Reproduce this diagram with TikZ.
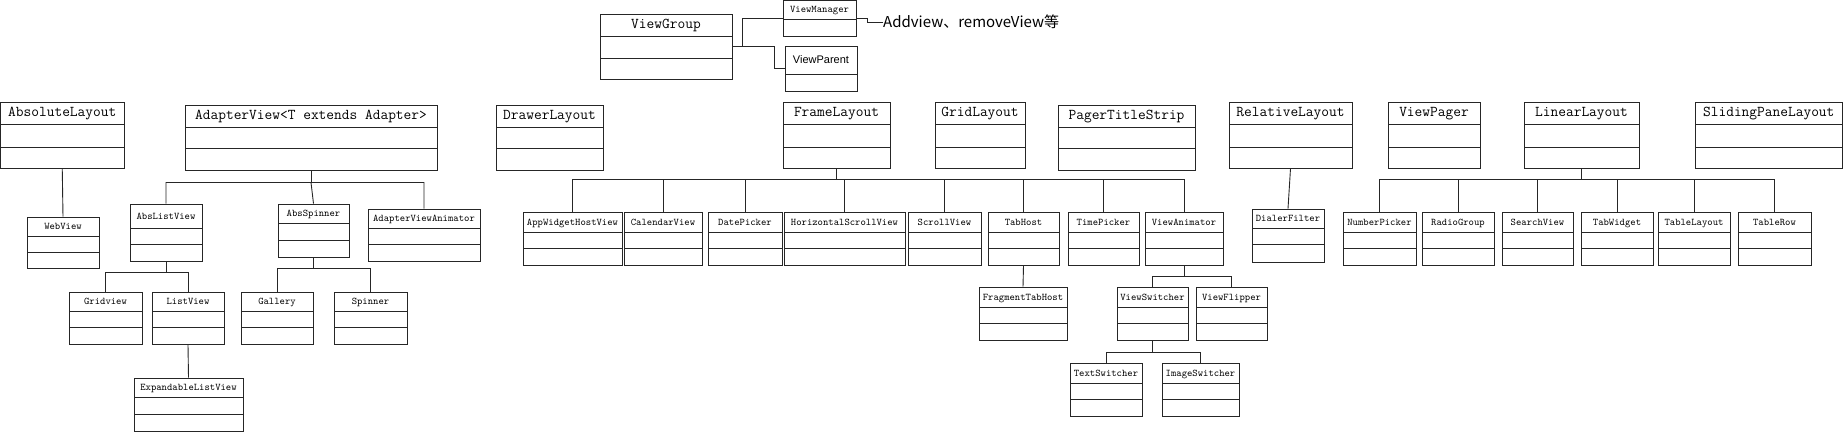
\documentclass[tikz,border=0pt]{standalone}
\usepackage{fontspec}
\setsansfont{Liberation Sans}
\newfontfamily\cjkfont{Noto Sans CJK SC}
\usetikzlibrary{fit}

\newcommand{\Klass}[9][smallname]{%
  \node[klass, fit={(#3,#4) (#5,#6)}] (#2) {};
  \draw[link] (#3,#7) -- (#5,#7) (#3,#8) -- (#5,#8);
  \node[#1] (#2-t) at ({(#3+#5)/2},{(#4+#7)/2}) {#9};
}

\begin{document}
\begin{tikzpicture}[x=1pt,y=-1pt]
                  \tikzset{klass/.style = {draw = black!85, line width = .9pt, inner sep = 0pt},
                           link/.style = {draw = black!85, line width = .9pt},
                           bigname/.style = {font = \ttfamily\fontsize{15}{17}\selectfont, inner sep = 0pt, text height = .61em, text depth = 0pt},
                           smallname/.style = {font = \ttfamily\fontsize{10.2}{12}\selectfont, inner sep = 0pt, text height = .61em, text depth = 0pt},
                           sansname/.style = {font = \sffamily\fontsize{11}{12}\selectfont, inner sep = 0pt, text height = .72em, text depth = 0pt},
                           notetext/.style = {font = \cjkfont\fontsize{15}{17}\selectfont, inner sep = 0pt}}
                  \useasboundingbox (0,0) rectangle (1843,432);
                  % top
                  \Klass[bigname]{ViewGroup}{600}{14}{732}{79}{36}{58}{ViewGroup}
                  \Klass{ViewManager}{783}{.5}{856}{36}{19}{19}{ViewManager}
                  \Klass[sansname]{ViewParent}{785}{46}{857}{91}{74}{74}{ViewParent}
                  \node[notetext, anchor = west] (note) at (883,22) {Addview、removeView等};
                  % layouts
                  \Klass[bigname]{AbsoluteLayout}{.5}{102}{124}{168}{124}{147}{AbsoluteLayout}
                  \Klass[bigname]{AdapterView}{185}{105}{437}{170}{127}{148}{AdapterView<T extends Adapter>}
                  \Klass[bigname]{DrawerLayout}{496}{105}{603}{170}{127}{148}{DrawerLayout}
                  \Klass[bigname]{FrameLayout}{783}{102}{890}{168}{124}{147}{FrameLayout}
                  \Klass[bigname]{GridLayout}{935}{102}{1025}{168}{124}{147}{GridLayout}
                  \Klass[bigname]{PagerTitleStrip}{1058}{105}{1195}{170}{127}{148}{PagerTitleStrip}
                  \Klass[bigname]{RelativeLayout}{1229}{102}{1352}{168}{124}{147}{RelativeLayout}
                  \Klass[bigname]{ViewPager}{1388}{102}{1480}{168}{124}{147}{ViewPager}
                  \Klass[bigname]{LinearLayout}{1524}{102}{1639}{168}{124}{147}{LinearLayout}
                  \Klass[bigname]{SlidingPaneLayout}{1695}{102}{1842.5}{168}{124}{147}{SlidingPaneLayout}
                  % children
                  \Klass{WebView}{27}{217}{99}{268}{236}{252}{WebView}
                  \Klass{AbsListView}{130}{204}{202}{261}{228}{244}{AbsListView}
                  \Klass{AbsSpinner}{278}{204}{349}{257}{223}{240}{AbsSpinner}
                  \Klass{AdapterViewAnimator}{368}{209}{480}{261}{228}{244}{AdapterViewAnimator}
                  \Klass{Gridview}{69}{292}{142}{344}{311}{327}{Gridview}
                  \Klass{ListView}{152}{292}{224}{344}{311}{327}{ListView}
                  \Klass{Gallery}{241}{292}{313}{344}{311}{327}{Gallery}
                  \Klass{Spinner}{334}{292}{407}{344}{311}{327}{Spinner}
                  \Klass{ExpandableListView}{134}{378}{243}{431.5}{397}{414}{ExpandableListView}
                  \Klass{AppWidgetHostView}{523}{212}{622}{265}{232}{248}{AppWidgetHostView}
                  \Klass{CalendarView}{624}{212}{702}{265}{232}{248}{CalendarView}
                  \Klass{DatePicker}{708}{212}{782}{265}{232}{248}{DatePicker}
                  \Klass{HorizontalScrollView}{784}{212}{905}{265}{232}{248}{HorizontalScrollView}
                  \Klass{ScrollView}{908}{212}{981}{265}{232}{248}{ScrollView}
                  \Klass{TabHost}{988}{212}{1059}{265}{232}{248}{TabHost}
                  \Klass{TimePicker}{1068}{212}{1139}{265}{232}{248}{TimePicker}
                  \Klass{ViewAnimator}{1145}{212}{1223}{265}{232}{248}{ViewAnimator}
                  \Klass{FragmentTabHost}{979}{287}{1067}{340}{307}{323}{FragmentTabHost}
                  \Klass{ViewSwitcher}{1117}{287}{1188}{340}{307}{323}{ViewSwitcher}
                  \Klass{ViewFlipper}{1196}{287}{1267}{340}{307}{323}{ViewFlipper}
                  \Klass{TextSwitcher}{1070}{363}{1142}{416}{383}{399}{TextSwitcher}
                  \Klass{ImageSwitcher}{1162}{363}{1239}{416}{383}{399}{ImageSwitcher}
                  \Klass{DialerFilter}{1252}{209}{1324}{262}{228}{244}{DialerFilter}
                  \Klass{NumberPicker}{1343}{212}{1416}{265}{232}{248}{NumberPicker}
                  \Klass{RadioGroup}{1422}{212}{1494}{265}{232}{248}{RadioGroup}
                  \Klass{SearchView}{1502}{212}{1573}{265}{232}{248}{SearchView}
                  \Klass{TabWidget}{1581}{212}{1653}{265}{232}{248}{TabWidget}
                  \Klass{TableLayout}{1658}{212}{1730}{265}{232}{248}{TableLayout}
                  \Klass{TableRow}{1738}{212}{1811}{265}{232}{248}{TableRow}
                  % connectors
                  \draw[link] (ViewGroup.east) -- ++(10,0) |- (ViewManager.west);
                  \draw[link] (ViewGroup.east) -- ++(42,0) |- (ViewParent.west);
                  \draw[link] (ViewManager.east) -- ++(11,0) |- (note.west);
                  \draw[link] (AbsoluteLayout.south) -- (WebView.north);
                  \draw[link] (AdapterView.south) -- ++(0,12) coordinate (av-bus);
                  \draw[link] (av-bus) -| (AbsListView.north) (av-bus) -- (AbsSpinner.north) (av-bus) -| (AdapterViewAnimator.north);
                  \draw[link] (AbsListView.south) -- ++(0,11) coordinate (al-bus);
                  \draw[link] (al-bus) -| (Gridview.north) (al-bus) -| (ListView.north);
                  \draw[link] (ListView.south) -- (ExpandableListView.north);
                  \draw[link] (AbsSpinner.south) -- ++(0,11) coordinate (as-bus);
                  \draw[link] (as-bus) -| (Gallery.north) (as-bus) -| (Spinner.north);
                  \draw[link] (FrameLayout.south) -- ++(0,11) coordinate (fl-bus);
                  \foreach \c in {AppWidgetHostView,CalendarView,DatePicker,HorizontalScrollView,ScrollView,TabHost,TimePicker,ViewAnimator}
                      \draw[link] (fl-bus) -| (\c.north);
                  \draw[link] (TabHost.south) -- (FragmentTabHost.north);
                  \draw[link] (ViewAnimator.south) -- ++(0,11) coordinate (va-bus);
                  \draw[link] (va-bus) -| (ViewSwitcher.north) (va-bus) -| (ViewFlipper.north);
                  \draw[link] (ViewSwitcher.south) -- ++(0,12) coordinate (vs-bus);
                  \draw[link] (vs-bus) -| (TextSwitcher.north) (vs-bus) -| (ImageSwitcher.north);
                  \draw[link] (RelativeLayout.south) -- (DialerFilter.north);
                  \draw[link] (LinearLayout.south) -- ++(0,11) coordinate (ll-bus);
                  \foreach \c in {NumberPicker,RadioGroup,SearchView,TabWidget,TableLayout,TableRow}
                      \draw[link] (ll-bus) -| (\c.north);
\end{tikzpicture}
\end{document}
